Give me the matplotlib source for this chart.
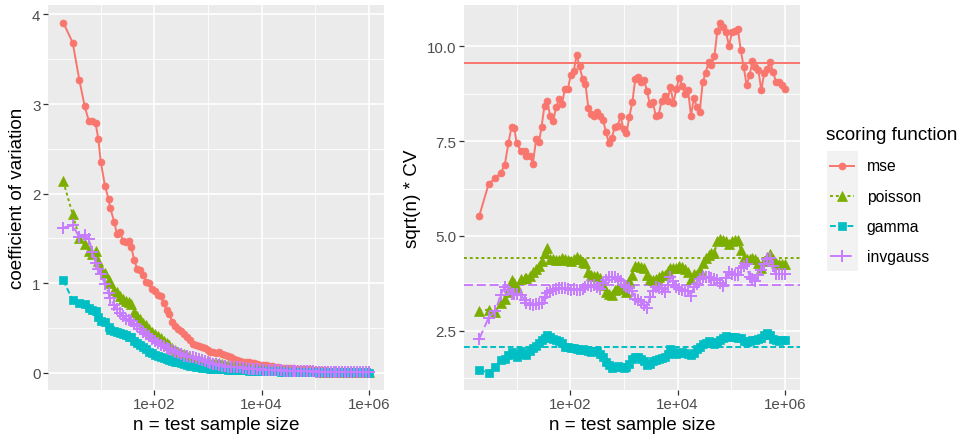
import numpy as np
import matplotlib
matplotlib.use('Agg')
import matplotlib.pyplot as plt
from matplotlib.patches import Rectangle
from matplotlib.lines import Line2D
from matplotlib.ticker import NullFormatter

plt.rcParams['font.family'] = ['Liberation Sans', 'DejaVu Sans']

# test sample sizes
n_values = [2, 3, 4, 5, 6, 7, 8, 9, 10,
            12, 14, 15, 18, 20, 23, 26, 29, 33, 37,
            42, 48, 54, 62, 70, 79, 90, 102, 116, 131,
            149, 169, 191, 217, 246, 279, 317, 359, 408, 462,
            524, 595, 674, 765, 867, 984, 1116, 1265, 1435, 1627,
            1846, 2094, 2375, 2693, 3055, 3465, 3930, 4457, 5055, 5733,
            6502, 7374, 8364, 9485, 10758, 12201, 13836, 15693, 17798, 20184,
            22893, 25964, 29449, 33396, 37877, 42960, 48726, 55262, 62677, 71087,
            80628, 91440, 103706, 117628, 133418, 151315, 171618, 194652, 220782, 250400,
            284000, 322100, 365300, 414300, 469900, 533000, 604500, 685600, 777600, 881900,
            1000000]

# sqrt(n) * CV per scoring function
mse = [5.53, 6.38, 6.53, 6.66, 6.88, 7.45, 7.88, 7.84, 7.45, 7.23,
       7.25, 7.12, 7.12, 6.91, 7.55, 7.47, 7.88, 8.44, 8.57, 8.16,
       8.03, 8.39, 8.61, 8.48, 8.88, 8.88, 9.24, 9.36, 9.77, 9.47,
       9.14, 9.01, 8.38, 8.22, 8.17, 8.28, 8.16, 8.07, 7.74, 7.45,
       7.59, 7.88, 7.91, 8.16, 7.81, 7.71, 8.15, 8.53, 9.14, 9.18,
       9.05, 9.11, 8.82, 8.47, 8.53, 8.17, 8.20, 8.57, 8.70, 8.57,
       8.94, 8.50, 8.88, 9.17, 8.96, 8.74, 8.86, 8.17, 8.63, 8.41,
       8.28, 9.05, 9.30, 9.58, 9.51, 9.74, 10.41, 10.63, 10.50, 10.37,
       10.00, 10.38, 10.41, 10.46, 9.90, 9.45, 8.98, 9.24, 9.61, 9.46,
       9.38, 8.84, 9.30, 9.40, 9.58, 9.33, 9.07, 9.07, 8.98, 8.88]
poisson = [3.02, 3.06, 3.00, 3.22, 3.34, 3.52, 3.84, 3.75, 3.66,
           3.86, 3.88, 3.90, 3.94, 4.05, 4.12, 4.20, 4.34, 4.55, 4.68,
           4.40, 4.38, 4.37, 4.36, 4.41, 4.38, 4.36, 4.34, 4.38, 4.44,
           4.38, 4.32, 4.28, 4.05, 3.96, 3.94, 3.94, 3.89, 3.70, 3.52,
           3.47, 3.44, 3.58, 3.65, 3.65, 3.60, 3.52, 3.80, 3.97, 4.20,
           4.22, 4.18, 4.15, 3.97, 3.86, 3.84, 3.86, 3.92, 3.96, 3.98,
           4.08, 4.15, 4.15, 4.15, 4.22, 4.18, 4.12, 4.05, 3.86, 3.99,
           3.99, 4.10, 4.30, 4.42, 4.50, 4.55, 4.55, 4.88, 4.92, 4.90,
           4.88, 4.78, 4.88, 4.90, 4.90, 4.62, 4.42, 4.39, 4.40, 4.41,
           4.39, 4.30, 4.15, 4.35, 4.45, 4.52, 4.40, 4.30, 4.27, 4.26, 4.25]
gamma = [1.46, 1.40, 1.55, 1.72, 1.76, 1.85, 1.94, 1.88, 1.81,
         1.97, 1.90, 1.86, 1.97, 2.05, 2.10, 2.18, 2.25, 2.30, 2.40,
         2.33, 2.28, 2.26, 2.22, 2.18, 2.08, 2.06, 2.05, 2.04, 2.03,
         2.00, 2.01, 1.99, 1.96, 1.94, 1.96, 1.98, 1.90, 1.80, 1.68,
         1.59, 1.53, 1.55, 1.56, 1.55, 1.53, 1.55, 1.62, 1.76, 1.80,
         1.81, 1.75, 1.70, 1.60, 1.62, 1.70, 1.72, 1.76, 1.78, 1.81,
         1.90, 2.02, 1.95, 1.89, 1.92, 1.94, 1.92, 1.89, 1.86, 1.92,
         2.01, 2.08, 2.14, 2.19, 2.23, 2.18, 2.14, 2.21, 2.27, 2.31,
         2.35, 2.34, 2.33, 2.33, 2.32, 2.30, 2.22, 2.21, 2.24, 2.25,
         2.26, 2.28, 2.32, 2.38, 2.43, 2.38, 2.29, 2.25, 2.23, 2.25, 2.26]
invgauss = [2.29, 2.85, 3.02, 3.45, 3.65, 3.58, 3.47, 3.46, 3.47,
            3.44, 3.32, 3.22, 3.20, 3.18, 3.20, 3.21, 3.22, 3.38, 3.50,
            3.56, 3.58, 3.60, 3.62, 3.62, 3.63, 3.60, 3.58, 3.60, 3.57,
            3.58, 3.60, 3.66, 3.72, 3.69, 3.71, 3.66, 3.60, 3.75, 3.85,
            3.91, 3.92, 3.91, 3.87, 3.80, 3.72, 3.66, 3.62, 3.55, 3.35,
            3.30, 3.25, 3.17, 3.10, 3.40, 3.55, 3.65, 3.62, 3.60, 3.52,
            3.70, 3.91, 3.80, 3.65, 3.60, 3.58, 3.56, 3.55, 3.43, 3.65,
            3.74, 3.86, 3.92, 3.93, 3.91, 3.89, 3.86, 3.84, 3.76, 3.69,
            3.90, 4.06, 4.00, 3.97, 3.96, 4.15, 4.20, 4.25, 3.92, 3.86,
            3.82, 3.98, 4.10, 4.25, 4.39, 4.42, 4.20, 3.99, 4.00, 4.01, 3.99]

series_names = ['mse', 'poisson', 'gamma', 'invgauss']
# asymptotic levels drawn as horizontal lines in the right panel
hline_values = [9.56, 4.41, 2.07, 3.71]

x_major = [1e2, 1e4, 1e6]
x_major_labels = ['1e+02', '1e+04', '1e+06']
x_minor = [1e1, 1e3, 1e5]

colors = ['#F8766D', '#7CAE00', '#00BFC4', '#C77CFF']
markers = ['o', '^', 's', '+']
msizes = [5, 6.5, 5.2, 9]
dashes = [None, (1.5, 1.5), (3, 1.5), (4.6, 2)]
LW = 1.4

W, H = 963, 439
fig = plt.figure(figsize=(W / 100, H / 100), dpi=100)


def axes_px(x0, y0, x1, y1):
    return fig.add_axes([x0 / W, 1 - y1 / H, (x1 - x0) / W, (y1 - y0) / H])


def style(ax):
    ax.set_facecolor('#EBEBEB')
    for s in ax.spines.values():
        s.set_visible(False)
    ax.set_axisbelow(True)
    ax.grid(which='major', color='white', lw=1.2)
    ax.grid(which='minor', color='white', lw=0.6)
    ax.tick_params(which='major', length=3.4, width=0.9, color='#333333',
                   labelcolor='#4D4D4D', labelsize=10.9, pad=2)
    ax.tick_params(which='minor', length=0)
    ax.set_xscale('log')
    ax.set_xticks(x_major, x_major_labels)
    ax.set_xticks(x_minor, minor=True)
    ax.xaxis.set_minor_formatter(NullFormatter())
    ax.set_xlabel('n = test sample size', fontsize=13.6, labelpad=3)


n = np.array(n_values, dtype=float)
values = [np.array(mse), np.array(poisson), np.array(gamma), np.array(invgauss)]

ax1 = axes_px(48, 6, 384, 391)
ax2 = axes_px(464, 6, 800, 391)

for i, name in enumerate(series_names):
    kw = dict(color=colors[i], marker=markers[i], ms=msizes[i], lw=LW,
              mew=1.4 if markers[i] == '+' else 0.5, zorder=2 + i)
    cv = values[i] / np.sqrt(n)
    l1, = ax1.plot(n, cv, **kw)
    l2, = ax2.plot(n, values[i], **kw)
    if dashes[i] is not None:
        l1.set_dashes(dashes[i])
        l2.set_dashes(dashes[i])
    hl = ax2.axhline(hline_values[i], color=colors[i], lw=LW, zorder=1.5)
    if dashes[i] is not None:
        hl.set_dashes(dashes[i])

style(ax1)
style(ax2)

ax1.set_yticks([0, 1, 2, 3, 4], ['0', '1', '2', '3', '4'])
ax1.set_yticks([0.5, 1.5, 2.5, 3.5], minor=True)
ax1.set_ylabel('coefficient of variation', fontsize=13.6, labelpad=4)

ax2.set_yticks([2.5, 5.0, 7.5, 10.0], ['2.5', '5.0', '7.5', '10.0'])
ax2.set_yticks([1.25, 3.75, 6.25, 8.75], minor=True)
ax2.set_ylabel('sqrt(n) * CV', fontsize=13.6, labelpad=4)

# legend drawn by hand (ggplot-style grey key boxes)
tf = fig.transFigure
fig.text(826 / W, 1 - 136 / H, 'scoring function', fontsize=13.6, va='center', ha='left')
fig.patches.append(Rectangle((826.7 / W, 1 - 272.3 / H), 31 / W, 120.6 / H,
                             transform=tf, facecolor='#F2F2F2', edgecolor='none'))
for i, name in enumerate(series_names):
    yc = 1 - (167 + 30.1 * i) / H
    ln = Line2D([830 / W, 854 / W], [yc, yc], transform=tf, color=colors[i], lw=LW)
    if dashes[i] is not None:
        ln.set_dashes(dashes[i])
    mk = Line2D([842 / W], [yc], transform=tf, color=colors[i], marker=markers[i],
                ms=msizes[i], mew=1.4 if markers[i] == '+' else 0.5, lw=0)
    fig.lines.extend([ln, mk])
    fig.text(866.7 / W, yc, name, fontsize=11.3, va='center', ha='left')

fig.savefig('out.png', dpi=100)
